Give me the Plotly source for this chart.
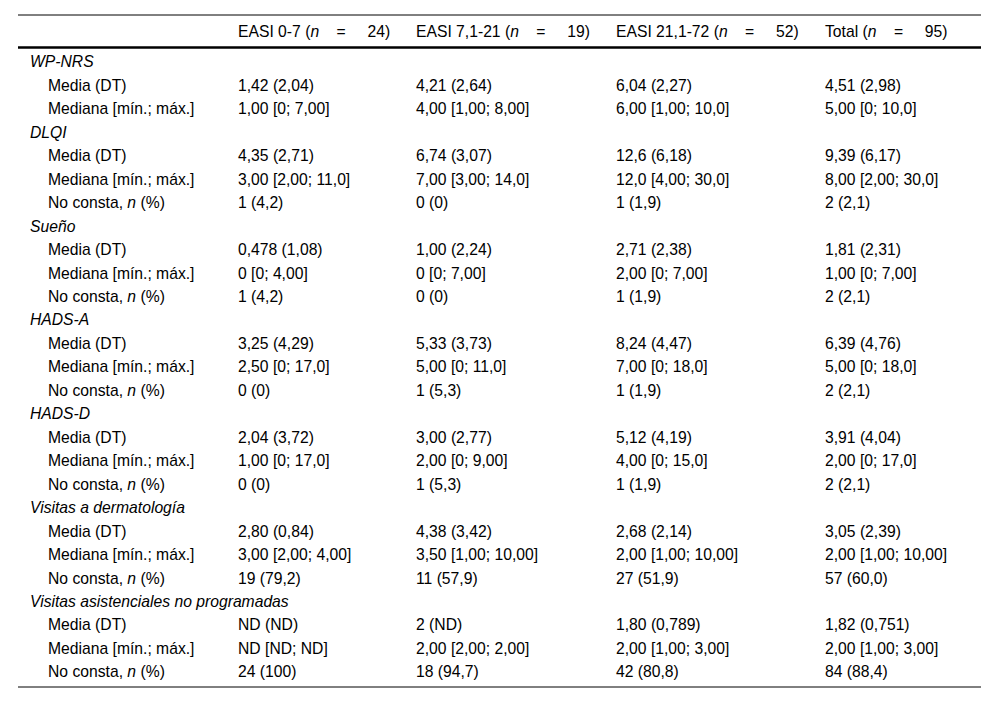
"""Tabla: escalas de calidad de vida y visitas por grupo de gravedad EASI."""

import plotly.graph_objects as go

# --- datos -----------------------------------------------------------------
SP_L = "\u00a0" * 4
SP_R = "\u00a0" * 5
GROUP_HEADERS = [
    f"EASI 0-7 (<i>n</i>{SP_L}={SP_R}24)",
    f"EASI 7,1-21 (<i>n</i>{SP_L}={SP_R}19)",
    f"EASI 21,1-72 (<i>n</i>{SP_L}={SP_R}52)",
    f"Total (<i>n</i>{SP_L}={SP_R}95)",
]

SECTIONS = [
    "WP-NRS",
    "DLQI",
    "Sueño",
    "HADS-A",
    "HADS-D",
    "Visitas a dermatología",
    "Visitas asistenciales no programadas",
]

STAT_LABELS = [
    ["Media (DT)", "Mediana [mín.; máx.]"],
    ["Media (DT)", "Mediana [mín.; máx.]", "No consta, <i>n</i> (%)"],
    ["Media (DT)", "Mediana [mín.; máx.]", "No consta, <i>n</i> (%)"],
    ["Media (DT)", "Mediana [mín.; máx.]", "No consta, <i>n</i> (%)"],
    ["Media (DT)", "Mediana [mín.; máx.]", "No consta, <i>n</i> (%)"],
    ["Media (DT)", "Mediana [mín.; máx.]", "No consta, <i>n</i> (%)"],
    ["Media (DT)", "Mediana [mín.; máx.]", "No consta, <i>n</i> (%)"],
]

EASI_0_7 = [
    ["1,42 (2,04)", "1,00 [0; 7,00]"],
    ["4,35 (2,71)", "3,00 [2,00; 11,0]", "1 (4,2)"],
    ["0,478 (1,08)", "0 [0; 4,00]", "1 (4,2)"],
    ["3,25 (4,29)", "2,50 [0; 17,0]", "0 (0)"],
    ["2,04 (3,72)", "1,00 [0; 17,0]", "0 (0)"],
    ["2,80 (0,84)", "3,00 [2,00; 4,00]", "19 (79,2)"],
    ["ND (ND)", "ND [ND; ND]", "24 (100)"],
]

EASI_7_21 = [
    ["4,21 (2,64)", "4,00 [1,00; 8,00]"],
    ["6,74 (3,07)", "7,00 [3,00; 14,0]", "0 (0)"],
    ["1,00 (2,24)", "0 [0; 7,00]", "0 (0)"],
    ["5,33 (3,73)", "5,00 [0; 11,0]", "1 (5,3)"],
    ["3,00 (2,77)", "2,00 [0; 9,00]", "1 (5,3)"],
    ["4,38 (3,42)", "3,50 [1,00; 10,00]", "11 (57,9)"],
    ["2 (ND)", "2,00 [2,00; 2,00]", "18 (94,7)"],
]

EASI_21_72 = [
    ["6,04 (2,27)", "6,00 [1,00; 10,0]"],
    ["12,6 (6,18)", "12,0 [4,00; 30,0]", "1 (1,9)"],
    ["2,71 (2,38)", "2,00 [0; 7,00]", "1 (1,9)"],
    ["8,24 (4,47)", "7,00 [0; 18,0]", "1 (1,9)"],
    ["5,12 (4,19)", "4,00 [0; 15,0]", "1 (1,9)"],
    ["2,68 (2,14)", "2,00 [1,00; 10,00]", "27 (51,9)"],
    ["1,80 (0,789)", "2,00 [1,00; 3,00]", "42 (80,8)"],
]

TOTAL = [
    ["4,51 (2,98)", "5,00 [0; 10,0]"],
    ["9,39 (6,17)", "8,00 [2,00; 30,0]", "2 (2,1)"],
    ["1,81 (2,31)", "1,00 [0; 7,00]", "2 (2,1)"],
    ["6,39 (4,76)", "5,00 [0; 18,0]", "2 (2,1)"],
    ["3,91 (4,04)", "2,00 [0; 17,0]", "2 (2,1)"],
    ["3,05 (2,39)", "2,00 [1,00; 10,00]", "57 (60,0)"],
    ["1,82 (0,751)", "2,00 [1,00; 3,00]", "84 (88,4)"],
]

# --- maquetación -------------------------------------------------------------
# la página añade 8 px de margen al body, así que todo va desplazado 8 px
FONT = "Liberation Sans, Arial, Helvetica, sans-serif"
FONT_SIZE = 15.7
W, H = 992, 695
ROW_PX = 23.46          # alto de fila
FIRST_ROW_PX = 55.5     # centro de la primera fila
HEADER_PX = 25.5        # centro de la cabecera
SECTION_X = 22          # borde izquierdo de las secciones
STAT_X = 40             # sangría de las filas de estadísticos
GROUP_COL_WIDTHS = [190, 178, 200, 209]   # primera = ancho de la columna de etiquetas
RULE_X = (10, 973)
RULES = [(7, 1), (39.5, 2.5), (679, 1)]   # (y en px, grosor)


def flatten_rows():
    labels, kinds = [], []
    columns = [[] for _ in GROUP_HEADERS]
    for i, section in enumerate(SECTIONS):
        labels.append(f"<i>{section}</i>")
        kinds.append("section")
        for col in columns:
            col.append("")
        for j, stat in enumerate(STAT_LABELS[i]):
            labels.append(stat)
            kinds.append("stat")
            for col, src in zip(columns, [EASI_0_7, EASI_7_21, EASI_21_72, TOTAL]):
                col.append(src[i][j])
    return labels, kinds, columns


def main() -> None:
    labels, kinds, columns = flatten_rows()
    n_rows = len(labels)
    rows = list(range(n_rows))
    header_row = (HEADER_PX - FIRST_ROW_PX) / ROW_PX

    col_x = []
    acc = STAT_X
    for w in GROUP_COL_WIDTHS:
        acc += w
        col_x.append(acc)

    text_font = dict(family=FONT, size=FONT_SIZE, color="#000000")
    fig = go.Figure()

    sec_rows = [r for r, k in zip(rows, kinds) if k == "section"]
    stat_rows = [r for r, k in zip(rows, kinds) if k == "stat"]
    fig.add_trace(go.Scatter(
        x=[SECTION_X] * len(sec_rows), y=sec_rows,
        text=[labels[r] for r in sec_rows],
        mode="text", textposition="middle right", textfont=text_font,
        hoverinfo="skip", showlegend=False, cliponaxis=False,
    ))
    fig.add_trace(go.Scatter(
        x=[STAT_X] * len(stat_rows), y=stat_rows,
        text=[labels[r] for r in stat_rows],
        mode="text", textposition="middle right", textfont=text_font,
        hoverinfo="skip", showlegend=False, cliponaxis=False,
    ))
    for header, x0, values in zip(GROUP_HEADERS, col_x, columns):
        fig.add_trace(go.Scatter(
            x=[x0] * (n_rows + 1), y=[header_row] + rows,
            text=[header] + values,
            mode="text", textposition="middle right", textfont=text_font,
            hoverinfo="skip", showlegend=False, cliponaxis=False,
        ))

    top_val = -FIRST_ROW_PX / ROW_PX
    bottom_val = top_val + H / ROW_PX
    fig.update_xaxes(range=[0, W], visible=False, fixedrange=True)
    fig.update_yaxes(range=[bottom_val, top_val], visible=False, fixedrange=True)

    for y_px, width in RULES:
        fig.add_shape(
            type="line", xref="x", yref="paper",
            x0=RULE_X[0], x1=RULE_X[1], y0=1 - y_px / H, y1=1 - y_px / H,
            line=dict(color="#000000", width=width),
        )

    fig.update_layout(
        width=W, height=H,
        margin=dict(l=0, r=0, t=0, b=0),
        paper_bgcolor="white", plot_bgcolor="white",
        font=dict(family=FONT),
    )
    fig.write_html("out.html")


if __name__ == "__main__":
    main()
